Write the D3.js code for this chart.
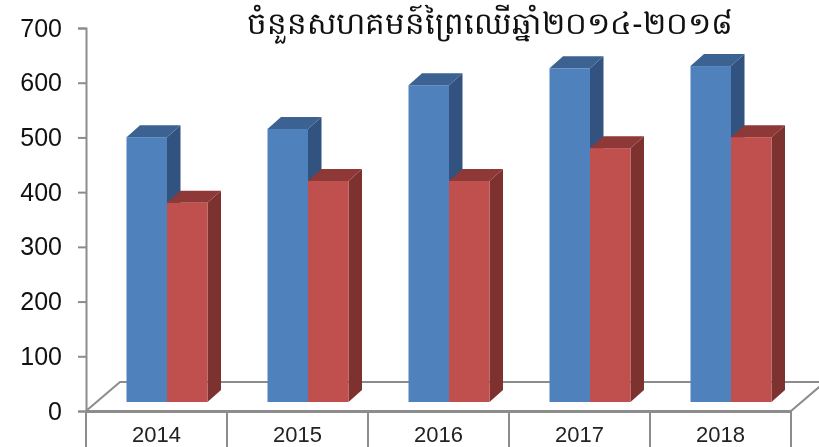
<!DOCTYPE html>
<html>
<head>
<meta charset="utf-8">
<script src="https://cdn.jsdelivr.net/npm/d3@7"></script>
<style>
    html, body { margin: 0; padding: 0; background: #fff; overflow: hidden; }
    text { font-family: "Liberation Sans", Arial, sans-serif; }
    svg { filter: blur(0.45px); }
</style>
</head>
<body>
<div id="chart"></div>
<script>
const years = ['2014', '2015', '2016', '2017', '2018'];
const blueValues = [484, 499, 579, 610, 614];
const redValues = [364, 404, 404, 464, 484];
const yTicks = [0, 100, 200, 300, 400, 500, 600, 700];
const titleText = 'ចំនួនសហគមន៍ព្រៃឈើឆ្នាំ២០១៤-២០១៨';

const width = 819, height = 447;
const axisColor = '#8c8c8c';

const svg = d3.select('#chart').append('svg')
    .attr('width', width)
    .attr('height', height);

const x = d3.scaleBand().domain(years).range([86, 791]);
const y = d3.scaleLinear().domain([0, 700]).range([411, 28]);

// bars stand in the middle of the floor, so they sit up and right of the axis plane
const barInset = 40.5, barW = 40.5, liftY = 9;
const depthX = 13.5, depthY = 12;
const floorX = 34, floorY = 29;

// floor
svg.append('path')
    .attr('d', `M${x.range()[0]},${y(0)}l${floorX},${-floorY}H${width + 10}M${x.range()[1]},${y(0)}l${floorX},${-floorY}`)
    .attr('fill', 'none')
    .attr('stroke', axisColor)
    .attr('stroke-width', 2);

function drawBars(values, offset, colors) {
    const g = svg.append('g').selectAll('g')
        .data(values)
        .enter().append('g');
    const left = (d, i) => x(years[i]) + barInset + offset;
    const top = d => y(d) - liftY;
    const base = y(0) - liftY;

    g.append('path') // side
        .attr('d', (d, i) => `M${left(d, i) + barW},${top(d)}l${depthX},${-depthY}V${base - depthY}l${-depthX},${depthY}Z`)
        .attr('fill', colors.side);
    g.append('path') // top
        .attr('d', (d, i) => `M${left(d, i)},${top(d)}l${depthX},${-depthY}h${barW}l${-depthX},${depthY}Z`)
        .attr('fill', colors.top);
    g.append('rect')
        .attr('x', left)
        .attr('y', top)
        .attr('width', barW)
        .attr('height', d => base - top(d))
        .attr('fill', colors.front);
}

drawBars(blueValues, 0, { front: '#4f81bd', side: '#325380', top: '#3b6290' });
drawBars(redValues, barW, { front: '#c0504d', side: '#7d3230', top: '#8e3937' });

// y axis
const yAxis = svg.append('g')
    .attr('transform', `translate(${x.range()[0]},0)`)
    .call(d3.axisLeft(y).tickValues(yTicks).tickSize(8).tickPadding(16).tickFormat(d3.format('d')));
yAxis.select('.domain').attr('stroke', axisColor).attr('stroke-width', 2);
yAxis.selectAll('.tick line').attr('stroke', axisColor).attr('stroke-width', 2);
yAxis.selectAll('.tick text')
    .attr('fill', '#111')
    .style('font-size', '25px')
    .style('font-family', '"Liberation Sans", Arial, sans-serif');

// x axis, long ticks act as category separators
const xAxis = svg.append('g')
    .attr('transform', `translate(0,${y(0)})`)
    .call(d3.axisBottom(x).tickSize(0).tickPadding(15));
xAxis.select('.domain').attr('stroke', axisColor).attr('stroke-width', 3);
xAxis.selectAll('.tick text')
    .attr('fill', '#222')
    .style('font-size', '22px')
    .style('font-family', '"Liberation Sans", Arial, sans-serif');
xAxis.selectAll('.sep')
    .data(d3.range(years.length + 1))
    .enter().append('line')
    .attr('class', 'sep')
    .attr('x1', i => i < years.length ? x(years[i]) : x.range()[1])
    .attr('x2', i => i < years.length ? x(years[i]) : x.range()[1])
    .attr('y1', 0)
    .attr('y2', 40)
    .attr('stroke', axisColor)
    .attr('stroke-width', 2);

svg.append('text')
    .attr('x', 490)
    .attr('y', 34)
    .attr('text-anchor', 'middle')
    .attr('fill', '#111')
    .style('font-size', '30.8px')
    .text(titleText);
</script>
</body>
</html>
